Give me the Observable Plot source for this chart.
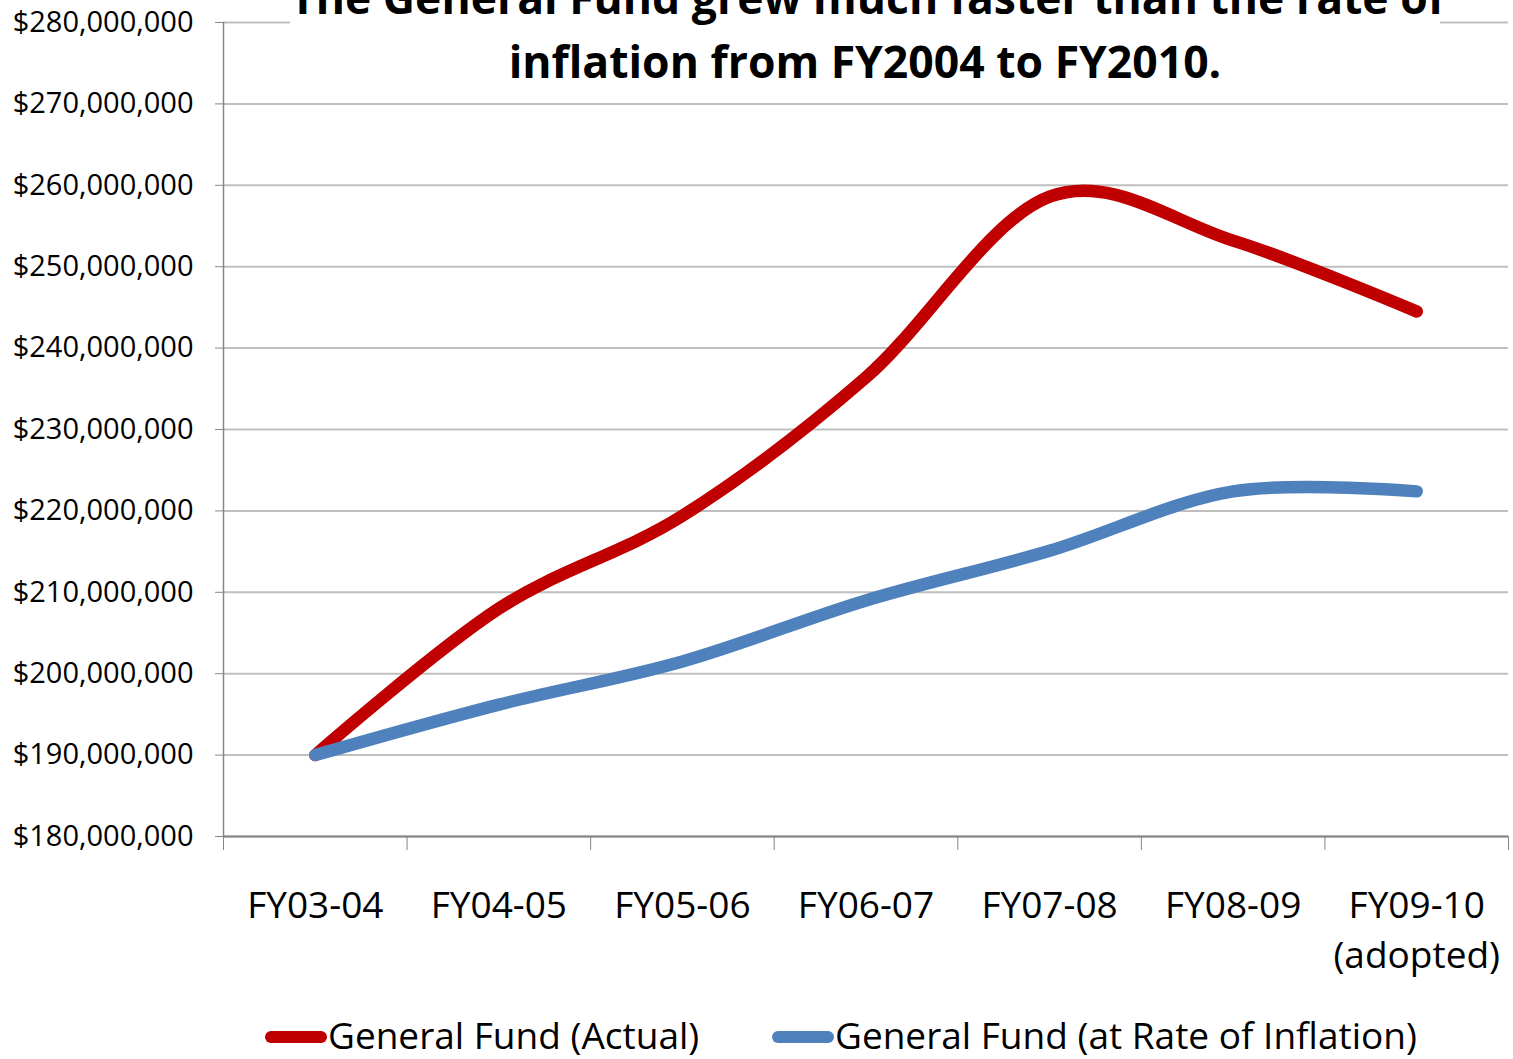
<!DOCTYPE html>
<html><head><meta charset="utf-8">
<script src="https://cdn.jsdelivr.net/npm/d3@7"></script>
<script src="https://cdn.jsdelivr.net/npm/@observablehq/plot@0.6"></script>
<style>
html,body{margin:0;padding:0;background:#fff;}
#wrap{position:relative;width:1513px;height:1059px;overflow:hidden;font-family:"Open Sans",sans-serif;color:#000;}
#wrap svg{position:absolute;left:0;top:0;}
#title{position:absolute;left:290px;width:1150px;top:-35px;text-align:center;font-weight:bold;font-size:44.5px;line-height:64px;background:#fff;}
#title div{white-space:nowrap;}
.sw{position:absolute;height:12px;border-radius:6px;top:1031px;}
.lt{position:absolute;top:1010px;font-size:37px;line-height:50px;white-space:nowrap;}
</style></head><body><div id="wrap"></div>
<script>
const categories = ["FY03-04","FY04-05","FY05-06","FY06-07","FY07-08","FY08-09","FY09-10\n(adopted)"];
const seriesNames = ["General Fund (Actual)", "General Fund (at Rate of Inflation)"];
const actual =    [190.0e6, 208.0e6, 219.4e6, 236.4e6, 258.6e6, 253.2e6, 244.5e6];
const inflation = [190.0e6, 196.2e6, 201.5e6, 209.0e6, 215.1e6, 222.4e6, 222.4e6];
const seriesColors = ["#C00000", "#4F81BD"];
const yTicks = [180e6,190e6,200e6,210e6,220e6,230e6,240e6,250e6,260e6,270e6,280e6];
const titleLines = ["The General Fund grew much faster than the rate of", "inflation from FY2004 to FY2010."];

const data = [];
[actual, inflation].forEach((vals, s) => vals.forEach((v, i) => data.push({series: seriesNames[s], i, value: v})));
const idx = categories.map((c, i) => i);
const boundaries = categories.map((c, i) => i - 0.5).concat([categories.length - 0.5]);

const plot = Plot.plot({
  width: 1513, height: 1000,
  marginLeft: 223, marginRight: 5, marginTop: 22, marginBottom: 164,
  style: {fontFamily: "'Open Sans', sans-serif", color: "#000", background: "transparent", overflow: "visible"},
  x: {domain: [-0.5, categories.length - 0.5]},
  y: {domain: [180e6, 280e6]},
  color: {domain: seriesNames, range: seriesColors},
  marks: [
    Plot.gridY(yTicks, {stroke: "#BFBFBF", strokeOpacity: 1, strokeWidth: 2}),
    Plot.ruleX([boundaries[0]], {stroke: "#868686", strokeWidth: 1.5}),
    Plot.ruleY([yTicks[0]], {stroke: "#868686", strokeWidth: 2}),
    Plot.axisY(yTicks, {tickSize: 8, tickPadding: 22, tickFormat: d3.format("$,"), fontSize: 29, stroke: "#868686", fill: "#000", label: null}),
    Plot.axisX(boundaries, {tickSize: 14, tickFormat: () => "", stroke: "#868686", label: null}),
    Plot.axisX(idx, {tickSize: 0, tickPadding: 46, tickFormat: i => categories[i], fontSize: 37, lineHeight: 1.35, fill: "#000", label: null}),
    Plot.lineY(data, {x: "i", y: "value", z: "series", stroke: "series", strokeWidth: 12.5, curve: "cardinal", tension: 0, strokeLinecap: "round", strokeLinejoin: "round"})
  ]
});
const wrap = document.getElementById("wrap");
wrap.appendChild(plot);

const title = document.createElement("div");
title.id = "title";
titleLines.forEach(t => { const d = document.createElement("div"); d.textContent = t; title.appendChild(d); });
wrap.appendChild(title);

const legendLeft = [265, 772];
seriesNames.forEach((name, k) => {
  const sw = document.createElement("div");
  sw.className = "sw";
  sw.style.left = legendLeft[k] + "px";
  sw.style.width = "62px";
  sw.style.background = seriesColors[k];
  wrap.appendChild(sw);
  const lt = document.createElement("div");
  lt.className = "lt";
  lt.style.left = (legendLeft[k] + 63) + "px";
  lt.textContent = name;
  wrap.appendChild(lt);
});
</script></body></html>
